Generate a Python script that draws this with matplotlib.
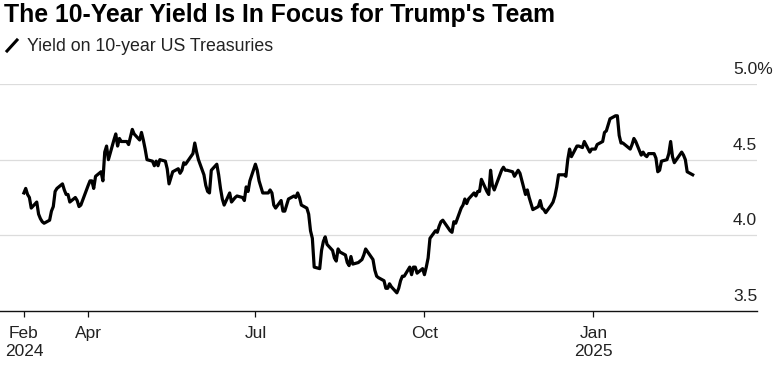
"""10-year Treasury yield, Feb 2024 - Feb 2025, Bloomberg-style line chart."""

import matplotlib
matplotlib.use('Agg')
import matplotlib.pyplot as plt
from matplotlib.lines import Line2D
import numpy as np
import pandas as pd

plt.rcParams['font.family'] = ['Liberation Sans', 'DejaVu Sans']

TITLE = "The 10-Year Yield Is In Focus for Trump's Team"
SERIES_LABEL = 'Yield on 10-year US Treasuries'

START = '2024-02-26'
END = '2025-02-24'
# bond market closures inside the window
HOLIDAYS = [
    '2024-03-29', '2024-05-27', '2024-06-19', '2024-07-04', '2024-09-02',
    '2024-10-14', '2024-11-11', '2024-11-28', '2024-12-25', '2025-01-01',
    '2025-01-09', '2025-01-20', '2025-02-17',
]

# daily closes (%), one list per month
feb24 = [4.28, 4.31, 4.27, 4.25]
mar24 = [4.18, 4.22, 4.14, 4.11, 4.09, 4.08, 4.10, 4.16, 4.19, 4.29, 4.31, 4.34,
         4.30, 4.27, 4.27, 4.22, 4.25, 4.23, 4.19, 4.20]
apr24 = [4.33, 4.36, 4.36, 4.31, 4.39, 4.42, 4.36, 4.55, 4.59, 4.50, 4.63, 4.67,
         4.59, 4.64, 4.62, 4.62, 4.60, 4.65, 4.70, 4.67, 4.63, 4.68]
may24 = [4.63, 4.57, 4.50, 4.49, 4.46, 4.49, 4.46, 4.50, 4.49, 4.44, 4.34, 4.38,
         4.42, 4.44, 4.41, 4.43, 4.48, 4.47, 4.54, 4.61, 4.55, 4.50]
jun24 = [4.40, 4.33, 4.29, 4.28, 4.43, 4.47, 4.40, 4.31, 4.24, 4.20, 4.28, 4.22,
         4.25, 4.26, 4.25, 4.23, 4.32, 4.29, 4.36]
jul24 = [4.47, 4.43, 4.36, 4.28, 4.28, 4.30, 4.28, 4.20, 4.18, 4.23, 4.16, 4.16,
         4.20, 4.24, 4.26, 4.25, 4.28, 4.25, 4.20, 4.18, 4.14, 4.03]
aug24 = [3.98, 3.79, 3.78, 3.90, 3.96, 3.99, 3.94, 3.90, 3.85, 3.83, 3.91, 3.89,
         3.87, 3.82, 3.80, 3.86, 3.81, 3.82, 3.83, 3.84, 3.87, 3.91]
sep24 = [3.84, 3.77, 3.73, 3.72, 3.70, 3.65, 3.65, 3.68, 3.66, 3.62, 3.65, 3.70,
         3.73, 3.73, 3.79, 3.74, 3.79, 3.79, 3.75, 3.78]
oct24 = [3.74, 3.79, 3.85, 3.98, 4.03, 4.02, 4.06, 4.09, 4.10, 4.03, 4.02, 4.09,
         4.08, 4.18, 4.20, 4.24, 4.21, 4.24, 4.28, 4.26, 4.29, 4.29]
nov24 = [4.37, 4.29, 4.27, 4.43, 4.33, 4.30, 4.43, 4.45, 4.43, 4.43, 4.42, 4.39,
         4.41, 4.43, 4.41, 4.27, 4.30, 4.25, 4.17]
dec24 = [4.19, 4.23, 4.18, 4.17, 4.15, 4.20, 4.22, 4.26, 4.32, 4.40, 4.40, 4.39,
         4.50, 4.57, 4.52, 4.59, 4.59, 4.58, 4.62, 4.55, 4.57]
jan25 = [4.57, 4.60, 4.62, 4.68, 4.69, 4.77, 4.79, 4.79, 4.66, 4.61, 4.61, 4.57,
         4.60, 4.64, 4.62, 4.53, 4.55, 4.53, 4.52, 4.54]
feb25 = [4.54, 4.51, 4.42, 4.43, 4.49, 4.50, 4.54, 4.62, 4.52, 4.48, 4.55, 4.53,
         4.50, 4.42, 4.40]

Y_TICKS = [3.5, 4.0, 4.5, 5.0]
Y_LABELS = ['3.5', '4.0', '4.5', '5.0%']
X_TICKS = ['2024-02-26', '2024-04-01', '2024-07-01', '2024-10-01', '2025-01-01']
X_LABELS = ['Feb\n2024', 'Apr', 'Jul', 'Oct', 'Jan\n2025']

W, H = 775, 370


def main():
    values = np.array(feb24 + mar24 + apr24 + may24 + jun24 + jul24 + aug24
                      + sep24 + oct24 + nov24 + dec24 + jan25 + feb25)
    dates = pd.bdate_range(START, END, freq='C', holidays=HOLIDAYS)
    assert len(dates) == len(values), (len(dates), len(values))

    fig = plt.figure(figsize=(W / 100, H / 100), dpi=100)
    ax = fig.add_axes([0.0, 1 - 311 / H, 757 / W, (311 - 84) / H])

    for y in Y_TICKS[1:]:
        ax.axhline(y, color='#dcdcdc', lw=0.9, zorder=1)
    ax.plot(dates, values, color='black', lw=2.3, solid_joinstyle='round', zorder=3)

    ax.set_ylim(3.5, 5.0)
    ax.set_xlim(pd.Timestamp('2024-02-13'), pd.Timestamp('2025-03-31'))
    ax.set_yticks([])
    for s in ('top', 'right', 'left'):
        ax.spines[s].set_visible(False)
    ax.spines['bottom'].set_linewidth(1.0)
    ax.spines['bottom'].set_color('#111111')

    ax.set_xticks(pd.to_datetime(X_TICKS))
    ax.set_xticklabels(X_LABELS, fontsize=12.5, color='#222222', linespacing=1.2)
    ax.tick_params(axis='x', length=4, width=0.9, color='#111111', pad=7)

    # y labels sit just above their gridlines, at the right
    for y, lab in zip(Y_TICKS, Y_LABELS):
        ax.text(733 / 757, y + 10 / 151, lab, transform=ax.get_yaxis_transform(),
                ha='left', va='baseline', fontsize=12.5, color='#222222')

    fig.text(4 / W, 1 - 22 / H, TITLE, fontsize=17.8, fontweight='bold',
             ha='left', va='baseline', color='black')
    fig.add_artist(Line2D([7 / W, 17 / W], [1 - 51 / H, 1 - 40 / H],
                          color='black', lw=2.2, transform=fig.transFigure))
    fig.text(27 / W, 1 - 51 / H, SERIES_LABEL, fontsize=12.8, ha='left',
             va='baseline', color='#222222')

    fig.savefig('out.png', dpi=100)
    plt.close(fig)


if __name__ == '__main__':
    main()
